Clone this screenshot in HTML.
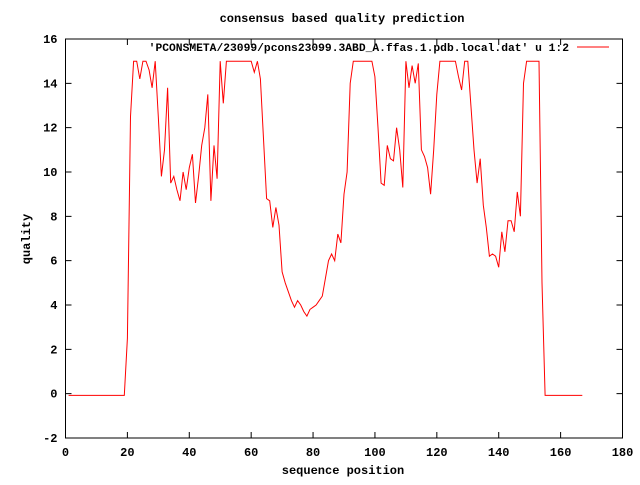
<!DOCTYPE html>
<html><head><meta charset="utf-8"><style>
body{margin:0;background:#fff;}
svg text{font-family:"Liberation Mono",monospace;font-weight:bold;font-size:12px;fill:#000;}
</style></head><body>
<svg id="chart" width="640" height="480" xmlns="http://www.w3.org/2000/svg">
<rect width="640" height="480" fill="#fff"/>
<text x="342" y="22" text-anchor="middle">consensus based quality prediction</text>
<text x="343" y="474" text-anchor="middle">sequence position</text>
<text x="30" y="239" text-anchor="middle" transform="rotate(-90 30 239)">quality</text>
<g id="axes"></g>
<g id="series"></g>
<text x="569" y="51" text-anchor="end" style="font-size:11.3px">'PCONSMETA/23099/pcons23099.3ABD_A.ffas.1.pdb.local.dat' u 1:2</text>
<line x1="577" y1="47" x2="609" y2="47" stroke="#f00" stroke-width="1"/>
</svg>
<script>
const xTicks=[0,20,40,60,80,100,120,140,160,180];
const yTicks=[-2,0,2,4,6,8,10,12,14,16];
const positions=[];for(let i=1;i<=167;i++)positions.push(i);
const quality=[
-0.08,-0.08,-0.08,-0.08,-0.08,-0.08,-0.08,-0.08,-0.08,-0.08,
-0.08,-0.08,-0.08,-0.08,-0.08,-0.08,-0.08,-0.08,-0.08,2.5,
12.5,15,15,14.2,15,15,14.6,13.8,15,12.5,
9.8,11,13.8,9.5,9.8,9.2,8.7,10.0,9.2,10.2,
10.8,8.6,9.8,11.2,12,13.5,8.7,11.2,9.7,15,
13.1,15,15,15,15,15,15,15,15,15,
14.5,15,14.2,11.5,8.8,8.7,7.5,8.4,7.6,5.5,
5.0,4.6,4.2,3.9,4.2,4.0,3.7,3.5,3.8,3.9,
4.0,4.2,4.4,5.2,6.0,6.3,6.0,7.2,6.8,9,
10,14,15,15,15,15,15,15,15,14.3,
12,9.5,9.4,11.2,10.6,10.5,12,11,9.3,15,
13.8,14.8,14,14.9,11,10.7,10.2,9,11,13.5,
15,15,15,15,15,15,14.3,13.7,15,15,
13,11,9.5,10.6,8.5,7.5,6.2,6.3,6.2,5.7,
7.3,6.4,7.8,7.8,7.3,9.1,8,14,15,15,
15,15,15,5,-0.08,-0.08,-0.08,-0.08,-0.08,-0.08,
-0.08,-0.08,-0.08,-0.08,-0.08,-0.08,-0.08];
const L=65.5,R=622.5,T=39,B=438;
const xs=v=>L+(v-0)/(180-0)*(R-L);
const ys=v=>B-(v+2)/18*(B-T);
const NS='http://www.w3.org/2000/svg';
const ax=document.getElementById('axes');
function mk(tag,attrs,parent){const e=document.createElementNS(NS,tag);for(const k in attrs)e.setAttribute(k,attrs[k]);parent.appendChild(e);return e;}
const frame=mk('rect',{x:L,y:T,width:R-L,height:B-T,fill:'none',stroke:'#000','stroke-width':1},ax);


xTicks.forEach(t=>{const x=xs(t);
const a=mk('path',{d:`M${x},${B}v-6M${x},${T}v6`,stroke:'#000','stroke-width':1},ax);


const tx=mk('text',{x:x,y:B+18,'text-anchor':'middle'},ax);tx.textContent=t;


});
yTicks.forEach(t=>{const y=ys(t);
const a=mk('path',{d:`M${L},${y}h6M${R},${y}h-6`,stroke:'#000','stroke-width':1},ax);


const tx=mk('text',{x:L-8,y:y+4,'text-anchor':'end'},ax);tx.textContent=t;


});
const d=positions.map((p,i)=>(i?'L':'M')+xs(p).toFixed(1)+','+ys(quality[i]).toFixed(1)).join('');
const line=mk('path',{d:d,fill:'none',stroke:'#f00','stroke-width':1},document.getElementById('series'));


</script>
</body></html>
